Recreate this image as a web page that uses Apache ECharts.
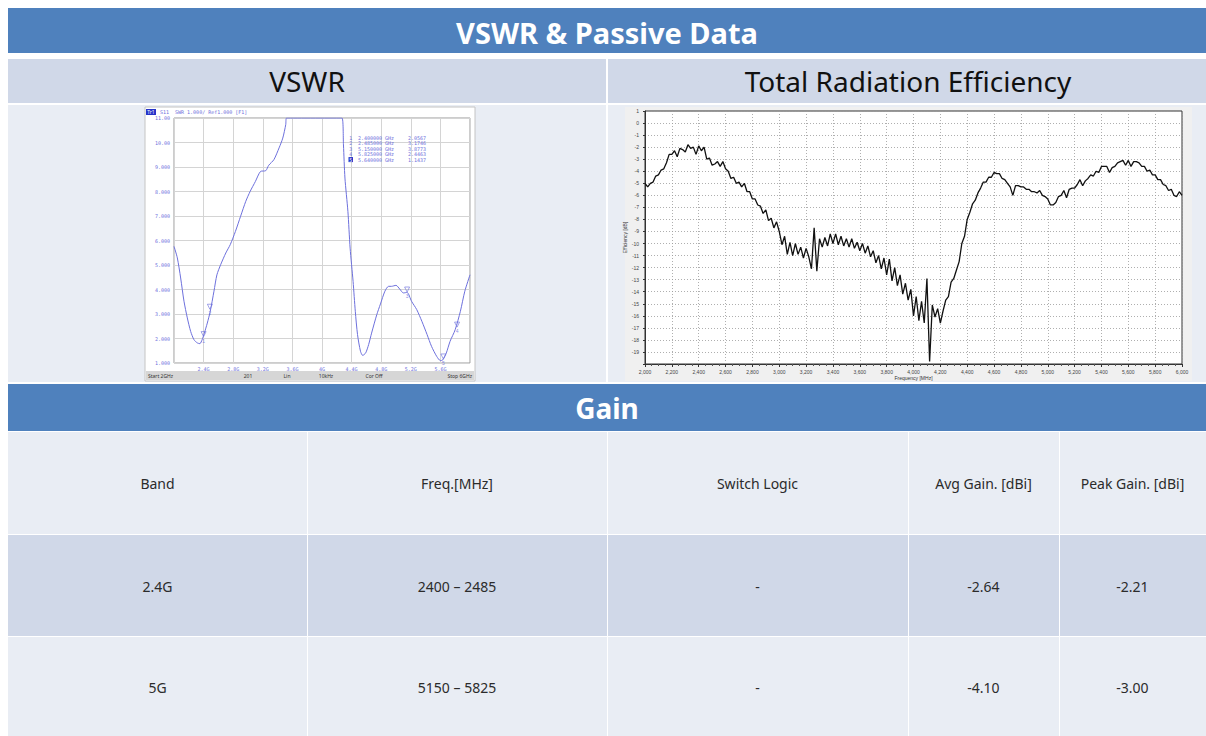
<!DOCTYPE html>
<html>
<head>
<meta charset="utf-8">
<title>VSWR &amp; Passive Data</title>
<script src="https://cdn.jsdelivr.net/npm/echarts@6.0.0/dist/echarts.min.js"></script>
<style>
  html, body { margin: 0; padding: 0; background: #fff; }
  #main { width: 1206px; height: 736px; }
</style>
</head>
<body>
<div id="main"></div>
<script>
const vswrFreq = [2.0, 2.045, 2.09, 2.135, 2.18, 2.225, 2.27, 2.315, 2.35, 2.38, 2.41, 2.45, 2.49, 2.54, 2.58,
    2.63, 2.70, 2.76, 2.83, 2.90, 2.97, 3.03, 3.10, 3.17, 3.24, 3.28, 3.35, 3.42, 3.47, 3.51, 3.52,
    4.27, 4.29, 4.31, 4.35, 4.38, 4.42, 4.45, 4.48, 4.52, 4.55, 4.59, 4.63, 4.67, 4.74, 4.79, 4.85,
    4.90, 4.94, 5.00, 5.05, 5.10, 5.15, 5.21, 5.28, 5.35, 5.42, 5.48, 5.55, 5.60, 5.63, 5.68, 5.73,
    5.80, 5.87, 5.93, 6.0];
const vswrValue = [5.76, 5.29, 4.47, 3.52, 2.84, 2.29, 1.95, 1.82, 1.79, 1.95, 2.22, 2.63, 3.11, 3.93, 4.6,
    5.01, 5.49, 5.83, 6.37, 6.99, 7.6, 8.01, 8.41, 8.82, 8.85, 9.07, 9.30, 9.78, 10.18, 10.73, 11,
    11, 9.9, 8.55, 7.19, 5.69, 4.33, 3.11, 2.16, 1.48, 1.31, 1.41, 1.75, 2.22, 2.97, 3.41, 3.93,
    4.13, 4.13, 4.17, 4.02, 3.86, 3.88, 3.52, 3.18, 2.70, 2.16, 1.68, 1.27, 1.10, 1.12, 1.41, 1.88,
    2.36, 3.11, 3.93, 4.6];

// analyzer markers
const markerNo = [1, 2, 3, 4, 5];
const markerFreq = [2.4, 2.485, 5.15, 5.825, 5.64];
const markerValue = [2.0567, 3.1746, 3.8773, 2.4463, 1.1437];

// status line of the analyzer
const statusText = ['Start 2GHz', '201', 'Lin', '10kHz', 'Cor Off', 'Stop 6GHz'];

// total radiation efficiency [dB], 2000 .. 6000 MHz every 20 MHz
const effStartMHz = 2000;
const effStepMHz = 20;
const effDb = [
    -5.0, -5.3, -5.0, -4.9, -4.4, -4.3, -3.9, -3.8, -3.3, -2.6,
    -2.6, -2.3, -2.8, -2.1, -2.2, -2.4, -1.8, -2.1, -2.0, -2.6,
    -1.9, -2.3, -2.0, -3.0, -2.9, -3.5, -3.4, -3.2, -3.6, -3.2,
    -3.8, -4.0, -4.6, -4.5, -5.0, -4.9, -5.3, -5.0, -5.7, -5.7,
    -6.3, -6.3, -6.8, -6.9, -7.5, -7.2, -8.1, -7.9, -8.7, -8.2,
    -9.0, -10.1, -9.4, -10.9, -9.9, -11.0, -10.0, -10.9, -10.3, -11.2,
    -10.4, -11.1, -12.1, -8.7, -12.3, -9.6, -10.3, -9.5, -10.2, -9.2,
    -10.0, -9.2, -10.1, -9.4, -10.2, -9.6, -10.3, -9.6, -10.4, -9.9,
    -10.6, -10.0, -10.8, -10.2, -11.1, -10.6, -11.6, -11.0, -12.1, -11.2,
    -12.6, -11.3, -13.1, -12.0, -13.5, -12.6, -14.2, -13.3, -14.7, -13.8,
    -16.0, -14.4, -16.4, -14.8, -16.6, -12.9, -19.8, -15.1, -16.1, -15.4,
    -16.6, -15.6, -14.7, -14.4, -13.2, -12.9, -12.2, -11.5, -10.0, -9.4,
    -8.0, -7.4, -6.7, -6.4, -5.8, -5.4, -4.9, -4.9, -4.5, -4.5,
    -4.1, -4.2, -4.2, -4.6, -4.7, -5.0, -5.3, -6.0, -5.2, -5.2,
    -5.3, -5.3, -5.5, -5.5, -5.7, -5.7, -5.8, -5.6, -6.0, -6.1,
    -6.3, -6.8, -6.8, -6.6, -6.1, -6.0, -5.6, -6.2, -5.5, -5.4,
    -5.4, -5.1, -4.7, -5.2, -4.8, -4.6, -4.3, -4.4, -4.0, -4.1,
    -3.6, -3.6, -3.6, -4.1, -3.7, -3.6, -3.3, -3.2, -3.1, -3.5,
    -3.1, -3.6, -3.2, -3.2, -3.3, -3.6, -3.6, -4.0, -3.9, -4.3,
    -4.3, -4.7, -4.7, -5.1, -5.2, -5.6, -5.5, -6.0, -6.1, -5.7,
    -6.0
];

// gain table
const gainHeader = ['Band', 'Freq.[MHz]', 'Switch Logic', 'Avg Gain. [dBi]', 'Peak Gain. [dBi]'];
const gainBand = ['2.4G', '5G'];
const gainFreq = ['2400 – 2485', '5150 – 5825'];
const gainSwitch = ['-', '-'];
const gainAvg = [-2.64, -4.10];
const gainPeak = [-2.21, -3.00];

const BLUE = '#4F81BD';
const MID = '#D0D8E8';
const LIGHT = '#E9EDF4';
const VNA = '#6d70dc';
const FONT = '"Noto Sans", "Open Sans", sans-serif';

const graphics = [];

function box(x, y, w, h, fill, extra) {
    graphics.push(Object.assign({
        type: 'rect', z: -10, silent: true,
        shape: {x: x, y: y, width: w, height: h},
        style: {fill: fill}
    }, extra || {}));
}

function label(text, x, y, font, fill, align) {
    graphics.push({
        type: 'text', z: 100, silent: true,
        style: {
            text: text, x: x, y: y, font: font, fill: fill,
            align: align || 'center', textAlign: align || 'center',
            verticalAlign: 'middle', textVerticalAlign: 'middle'
        }
    });
}

// slide blocks
box(8, 8, 1198, 45, BLUE);
label('VSWR & Passive Data', 607, 32, 'bold 29px ' + FONT, '#fff');
box(8, 59, 598, 44, MID);
box(608, 59, 598, 44, MID);
label('VSWR', 307, 81, '28px ' + FONT, '#111');
label('Total Radiation Efficiency', 908, 81, '28px ' + FONT, '#111');
box(8, 105, 598, 277, LIGHT);
box(608, 105, 598, 277, LIGHT);
box(8, 384, 1198, 47, BLUE);
label('Gain', 607, 408, 'bold 28px ' + FONT, '#fff');

// gain table
const colEdge = [8, 307, 607, 908, 1059, 1206];
const rowEdge = [432, 535, 637, 737];
const rowFill = [LIGHT, MID, LIGHT];
const tableRows = [gainHeader];
for (let i = 0; i < gainBand.length; i++) {
    tableRows.push([gainBand[i], gainFreq[i], gainSwitch[i], gainAvg[i].toFixed(2), gainPeak[i].toFixed(2)]);
}
tableRows.forEach((row, r) => {
    row.forEach((cell, c) => {
        const x0 = colEdge[c] + (c > 0 ? 1 : 0);
        box(x0, rowEdge[r], colEdge[c + 1] - x0, rowEdge[r + 1] - rowEdge[r] - 1, rowFill[r]);
        label(cell, (colEdge[c] + colEdge[c + 1]) / 2, (rowEdge[r] + rowEdge[r + 1]) / 2,
            '14px ' + FONT, '#2b2b2b');
    });
});

// VSWR analyzer screen
box(145, 107, 330, 274, '#fff', {style: {fill: '#fff', stroke: '#c4c4c4', lineWidth: 1}});
box(146, 371, 328, 9, '#d6d6d6');
graphics.push({
    type: 'rect', z: 100, silent: true,
    shape: {x: 146, y: 109, width: 10, height: 6},
    style: {fill: '#2633c9'}
});
label('Tr1', 151, 112, '5px ' + FONT, '#fff');
label('S11  SWR 1.000/ Ref1.000 [F1]', 160, 112, '5px "DejaVu Sans Mono", monospace', VNA, 'left');
const statusX = [148, 248, 287, 326, 374, 472];
statusText.forEach((t, i) => {
    label(t, statusX[i], 376, '5px ' + FONT, '#333', i === 0 ? 'left' : (i === statusText.length - 1 ? 'right' : 'center'));
});
markerNo.forEach((n, i) => {
    const y = 138 + i * 5.4;
    if (i === 4) {
        graphics.push({
            type: 'rect', z: 99, silent: true,
            shape: {x: 348.5, y: y - 2.5, width: 4.5, height: 5},
            style: {fill: '#2633c9'}
        });
    }
    label(String(n), 350.7, y, '5px "DejaVu Sans Mono", monospace', i === 4 ? '#fff' : VNA);
    label(markerFreq[i].toFixed(6) + ' GHz', 358, y, '5px "DejaVu Sans Mono", monospace', VNA, 'left');
    label(markerValue[i].toFixed(4), 408, y, '5px "DejaVu Sans Mono", monospace', VNA, 'left');
});

// efficiency plot panel
box(625, 107, 567, 274, '#f0f0f0');

const vswrData = vswrFreq.map((f, i) => [f, vswrValue[i]]);
const markerData = markerFreq.map((f, i) => [f, markerValue[i]]);
const effData = effDb.map((v, i) => [effStartMHz + i * effStepMHz, v]);

const chart = echarts.init(document.getElementById('main'), null, {renderer: 'svg'});

chart.setOption({
    animation: false,
    backgroundColor: '#fff',
    graphic: graphics,
    grid: [
        {
            left: 174, top: 118, width: 296, height: 245,
            show: true, backgroundColor: '#fff', borderColor: '#9a9a9a', borderWidth: 1
        },
        {
            left: 645, top: 111, width: 537, height: 253,
            show: true, backgroundColor: '#fff', borderColor: '#333', borderWidth: 1
        }
    ],
    xAxis: [
        {
            gridIndex: 0, type: 'value', min: 2, max: 6, interval: 0.4,
            axisLine: {show: false, onZero: false}, axisTick: {show: false},
            splitLine: {lineStyle: {color: '#d4d4d4', width: 1}},
            axisLabel: {
                fontSize: 5, color: VNA, margin: 3, fontFamily: 'DejaVu Sans Mono',
                formatter: v => (v <= 2 || v >= 6) ? '' : (+v.toFixed(1)) + 'G'
            }
        },
        {
            gridIndex: 1, type: 'value', min: 2000, max: 6000, interval: 200,
            name: 'Frequency [MHz]', nameLocation: 'middle', nameGap: 11,
            nameTextStyle: {fontSize: 5, color: '#333'},
            axisLine: {onZero: false, lineStyle: {color: '#333'}},
            axisTick: {lineStyle: {color: '#333'}, length: 3},
            minorTick: {show: true, splitNumber: 4, length: 2, lineStyle: {color: '#555'}},
            splitLine: {lineStyle: {color: '#9a9a9a', type: [1, 2], width: 0.8}},
            axisLabel: {
                fontSize: 5, color: '#444', margin: 5,
                formatter: v => v.toLocaleString('en-US')
            }
        }
    ],
    yAxis: [
        {
            gridIndex: 0, type: 'value', min: 1, max: 11, interval: 1,
            axisLine: {show: false, onZero: false}, axisTick: {show: false},
            splitLine: {lineStyle: {color: '#d4d4d4', width: 1}},
            axisLabel: {
                fontSize: 5, color: VNA, margin: 4, fontFamily: 'DejaVu Sans Mono',
                formatter: v => v >= 10 ? v.toFixed(2) : v.toFixed(3)
            }
        },
        {
            gridIndex: 1, type: 'value', min: -20, max: 1, interval: 1,
            name: 'Efficiency [dB]', nameLocation: 'middle', nameGap: 13, nameRotate: 90,
            nameTextStyle: {fontSize: 5, color: '#333'},
            axisLine: {onZero: false, lineStyle: {color: '#333'}},
            axisTick: {lineStyle: {color: '#333'}, length: 2},
            splitLine: {lineStyle: {color: '#9a9a9a', type: [1, 2], width: 0.8}},
            axisLabel: {
                fontSize: 5, color: '#444', margin: 6,
                formatter: v => v <= -20 ? '' : String(v)
            }
        }
    ],
    series: [
        {
            name: 'VSWR', type: 'line', xAxisIndex: 0, yAxisIndex: 0,
            data: vswrData, smooth: 0.25, showSymbol: false, clip: true,
            lineStyle: {color: VNA, width: 1}
        },
        {
            name: 'Markers', type: 'scatter', xAxisIndex: 0, yAxisIndex: 0,
            data: markerData, symbol: 'triangle', symbolRotate: 180, symbolSize: 5,
            symbolOffset: [0, -3],
            itemStyle: {color: 'rgba(0,0,0,0)', borderColor: VNA, borderWidth: 0.8},
            label: {
                show: true, position: 'bottom', distance: 1, fontSize: 5, color: VNA,
                formatter: p => String(markerNo[p.dataIndex])
            }
        },
        {
            name: 'Efficiency', type: 'line', xAxisIndex: 1, yAxisIndex: 1,
            data: effData, showSymbol: false, clip: true,
            lineStyle: {color: '#111', width: 1.3}
        }
    ]
});
</script>
</body>
</html>
